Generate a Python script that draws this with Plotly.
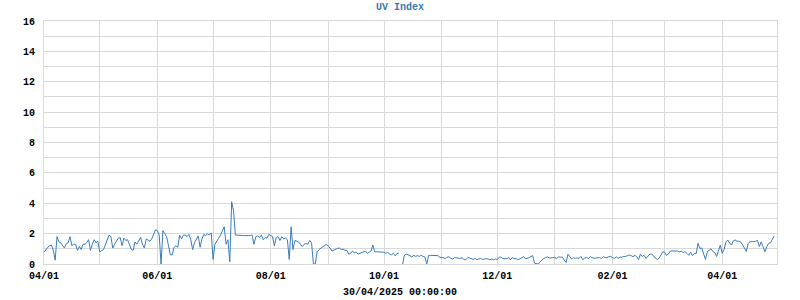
import pandas as pd
import plotly.graph_objects as go

start_date = "2024-04-01"

apr24 = [0.77, 0.95, 1.1, 1.2, 1.25, 0.9, 0.25, 1.8, 1.45, 1.4, 1.25, 1.05, 1.35, 1.4, 1.8,
         1.2, 1.3, 1.3, 0.9, 1.15, 0.95, 1.3, 1.3, 1.4, 1.6, 0.9, 1.3, 1.6, 1.4, 1.5]
may24 = [0.8, 0.85, 0.95, 1.25, 1.6, 1.9, 1.8, 1.05, 1.3, 1.55, 1.7, 1.75, 1.2, 1.7, 1.55,
         1.6, 1.3, 0.95, 0.9, 1.45, 1.3, 1.5, 1.75, 1.3, 1.05, 1.65, 1.6, 1.5, 1.65, 2.0, 2.25]
jun24 = [2.2, 1.9, 0.0, 2.2, 2.0, 1.8, 1.2, 0.6, 0.6, 1.1, 1.2, 1.1, 1.9, 1.65, 1.9,
         1.9, 1.8, 1.95, 1.6, 0.95, 1.4, 1.6, 1.85, 1.1, 1.65, 1.95, 1.85, 2.0, 1.9, 2.05]
jul24 = [0.3, 1.3, 1.55, 1.7, 1.9, 2.2, 2.45, 1.3, 1.6, 0.15, 4.1, 3.5, 1.9, 1.9, 1.88,
         1.88, 1.87, 1.87, 1.85, 1.87, 1.88, 1.9, 1.3, 1.8, 1.85, 1.75, 1.9, 1.6, 1.75, 1.7, 1.95]
aug24 = [1.85, 1.8, 1.2, 1.75, 1.8, 1.55, 1.8, 1.65, 1.7, 1.6, 0.3, 2.45, 0.95, 1.55, 1.5,
         1.45, 1.3, 1.15, 1.3, 1.35, 1.3, 1.55, 1.4, 0.0, 0.0, 0.8, 0.95, 1.05, 1.1, 1.2, 1.3]
sep24 = [1.15, 1.05, 0.85, 0.92, 0.98, 1.03, 1.05, 0.95, 0.98, 0.9, 0.9, 0.65, 0.7, 0.85, 0.75,
         0.78, 0.65, 0.7, 0.8, 0.8, 0.85, 0.7, 0.8, 0.85, 1.25, 0.8, 0.8, 0.8, 0.8, 0.8]
oct24 = [0.78, 0.7, 0.78, 0.65, 0.6, 0.7, 0.55, 0.7, 0.72, None, 0.0, 0.6, 0.65, 0.62, 0.55,
         0.45, 0.59, 0.5, 0.55, 0.5, 0.57, 0.5, 0.45, 0.0, 0.57, 0.57, 0.57, 0.57, 0.55, 0.55, 0.45]
nov24 = [0.42, 0.42, 0.37, 0.45, 0.47, 0.37, 0.33, 0.42, 0.4, 0.35, 0.37, 0.42, 0.3, 0.28, 0.42,
         0.4, 0.37, 0.3, 0.37, 0.28, 0.33, 0.37, 0.3, 0.35, 0.35, 0.33, 0.28, 0.33, 0.28, 0.33]
dec24 = [0.3, 0.45, 0.45, 0.35, 0.37, 0.35, 0.42, 0.28, 0.42, 0.35, 0.35, 0.3, 0.33, 0.42, 0.47,
         0.37, 0.37, 0.42, 0.5, 0.55, 0.05, 0.0, 0.0, 0.15, 0.27, 0.37, 0.42, 0.47, 0.4, 0.4, 0.4]
jan25 = [0.42, 0.37, 0.47, 0.45, 0.45, 0.26, 0.1, 0.65, 0.5, 0.33, 0.42, 0.37, 0.4, 0.37, 0.5,
         0.28, 0.4, 0.42, 0.37, 0.48, 0.42, 0.38, 0.4, 0.4, 0.42, 0.37, 0.48, 0.42, 0.42, 0.48, 0.5]
feb25 = [0.42, 0.37, 0.47, 0.37, 0.45, 0.45, 0.5, 0.48, 0.55, 0.59, 0.55, 0.48, 0.57, 0.48, 0.3,
         0.64, 0.5, 0.57, 0.37, 0.48, 0.64, 0.65, 0.55, 0.38, 0.3, 0.37, 0.6, 0.8]
mar25 = [0.78, 0.57, 0.65, 0.85, 0.86, 0.86, 0.86, 0.85, 0.8, 0.84, 0.75, 0.82, 0.7, 0.57, 0.77,
         0.55, 0.7, 0.67, 1.36, 1.03, 1.05, 0.6, 0.3, 0.81, 0.9, 1.0, 0.82, 0.75, 0.5, 0.95, 1.25]
apr25 = [0.7, 0.95, 1.45, 1.58, 1.38, 1.25, 1.53, 1.58, 1.5, 1.5, 1.45, 1.2, 1.05, 0.83, 1.36,
         1.47, 1.45, 1.47, 1.5, 1.55, 1.15, 1.45, 1.15, 0.8, 1.14, 1.36, 1.4, 1.6, 1.85]

uv = apr24 + may24 + jun24 + jul24 + aug24 + sep24 + oct24 + nov24 + dec24 + jan25 + feb25 + mar25 + apr25
dates = pd.date_range(start_date, periods=len(uv), freq="D")

grid = "#d9d9d9"
mono = "Liberation Mono, Courier New, monospace"
tickfont = dict(family=mono, size=10, color="#000000", weight="bold")

fig = go.Figure()
fig.add_trace(go.Scatter(x=dates, y=uv, mode="lines",
                         line=dict(color="#3a7dbd", width=1),
                         connectgaps=False, hoverinfo="x+y"))

fig.update_layout(
    width=800, height=300,
    margin=dict(l=44, r=23, t=21, b=36),
    paper_bgcolor="white", plot_bgcolor="white",
    showlegend=False,
    title=dict(text="UV Index", x=0.5, xanchor="center", y=1 - 6 / 300, yanchor="middle",
               xref="container", yref="container",
               font=dict(family=mono, size=10, color="#3a7ab5", weight="bold")),
)

fig.update_xaxes(
    type="date",
    range=["2024-04-01", "2025-04-30 12:00"],
    dtick="M2", tick0="2024-04-01", tickformat="%m/%d",
    showgrid=True, gridcolor=grid, gridwidth=1,
    minor=dict(dtick="M1", tick0="2024-04-01", showgrid=True, gridcolor=grid, gridwidth=1),
    showline=True, linecolor=grid, linewidth=1, mirror=True,
    ticks="", ticklabelstandoff=2,
    tickfont=tickfont, zeroline=False,
)
fig.update_yaxes(
    range=[0, 16], dtick=2, tick0=0,
    showgrid=True, gridcolor=grid, gridwidth=1,
    minor=dict(dtick=1, showgrid=True, gridcolor=grid, gridwidth=1),
    showline=True, linecolor=grid, linewidth=1, mirror=True,
    ticks="", ticklabelstandoff=6,
    tickfont=tickfont, zeroline=False,
)

fig.add_annotation(text="30/04/2025 00:00:00", xref="paper", yref="paper",
                   x=(400 - 44) / 733, y=-28 / 243, xanchor="center", yanchor="middle",
                   showarrow=False,
                   font=dict(family=mono, size=10, color="#000000", weight="bold"))

fig.write_html("out.html")
